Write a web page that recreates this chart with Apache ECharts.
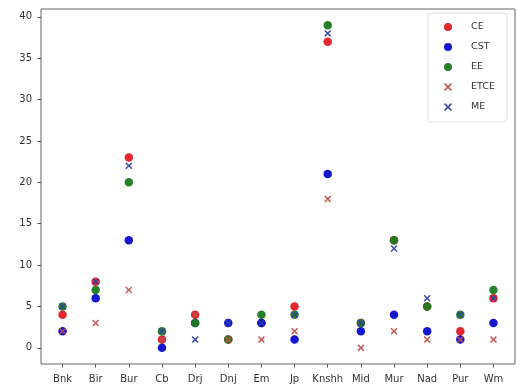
<!DOCTYPE html>
<html><head><meta charset="utf-8">
<script src="https://cdn.jsdelivr.net/npm/echarts@6/dist/echarts.min.js"></script>
<style>html,body{margin:0;padding:0;background:#fff}#c{width:517px;height:392px}</style>
</head><body><div id="c"></div>
<script>
const categories = ['Bnk','Bir','Bur','Cb','Drj','Dnj','Em','Jp','Knshh','Mid','Mur','Nad','Pur','Wm'];
const CE   = [4, 8, 23, 1, 4, 1, 3, 5, 37, 3, 13, 5, 2, 6];
const CST  = [2, 6, 13, 0, 3, 3, 3, 1, 21, 2, 4, 2, 1, 3];
const EE   = [5, 7, 20, 2, 3, 1, 4, 4, 39, 3, 13, 5, 4, 7];
const ETCE = [2, 3, 7, 1, 4, 1, 1, 2, 18, 0, 2, 1, 1, 1];
const ME   = [5, 8, 22, 2, 1, 3, 3, 4, 38, 3, 12, 6, 4, 6];
const yTicks = [0, 5, 10, 15, 20, 25, 30, 35, 40];

const X = 'path://M1.5,0L5,3.5L8.5,0L10,1.5L6.5,5L10,8.5L8.5,10L5,6.5L1.5,10L0,8.5L3.5,5L0,1.5Z';
const defs = [
  {name:'CE', data:CE, color:'#e01b24', symbol:'circle', size:8.5},
  {name:'CST', data:CST, color:'#0a0acc', symbol:'circle', size:8.5},
  {name:'EE', data:EE, color:'#1c7a1c', symbol:'circle', size:8.5},
  {name:'ETCE', data:ETCE, color:'#c0504a', symbol:X, size:7},
  {name:'ME', data:ME, color:'#3040a8', symbol:X, size:7}
];
const chart = echarts.init(document.getElementById('c'), null, {renderer:'canvas'});
const font = 'DejaVu Sans';
chart.setOption({
  animation:false,
  backgroundColor:'#fff',
  grid:{left:41, right:2, top:9, bottom:28, show:true, borderColor:'#666', borderWidth:1},
  xAxis:{type:'value', min:-0.65, max:13.65,
    axisLine:{show:false, onZero:false}, splitLine:{show:false},
    axisTick:{show:true, customValues:categories.map((c,i)=>i), length:3.5, lineStyle:{color:'#555'}},
    axisLabel:{customValues:categories.map((c,i)=>i), formatter:v=>categories[Math.round(v)], color:'#333', fontFamily:font, fontSize:10, margin:10}
  },
  yAxis:{type:'value', min:-1.95, max:40.95,
    axisLine:{show:false, onZero:false}, splitLine:{show:false},
    axisTick:{show:true, customValues:yTicks, length:3.5, lineStyle:{color:'#555'}},
    axisLabel:{customValues:yTicks, color:'#333', fontFamily:font, fontSize:10, margin:9}
  },
  legend:{orient:'vertical', left:428, top:13, width:70, padding:[9,12,10,16],
    backgroundColor:'#fff', borderColor:'#ddd', borderWidth:1, borderRadius:3,
    itemWidth:8, itemHeight:8, itemGap:10,
    textStyle:{fontFamily:font, fontSize:9.5, color:'#333', padding:[0,0,0,14]},
    data:defs.map(d=>({name:d.name, icon:d.symbol}))
  },
  series:defs.map(d=>({
    name:d.name, type:'scatter', symbol:d.symbol, symbolSize:d.size,
    itemStyle:{color:d.color, opacity:0.95},
    data:d.data.map((v,i)=>[i,v])
  }))
});
</script></body></html>
